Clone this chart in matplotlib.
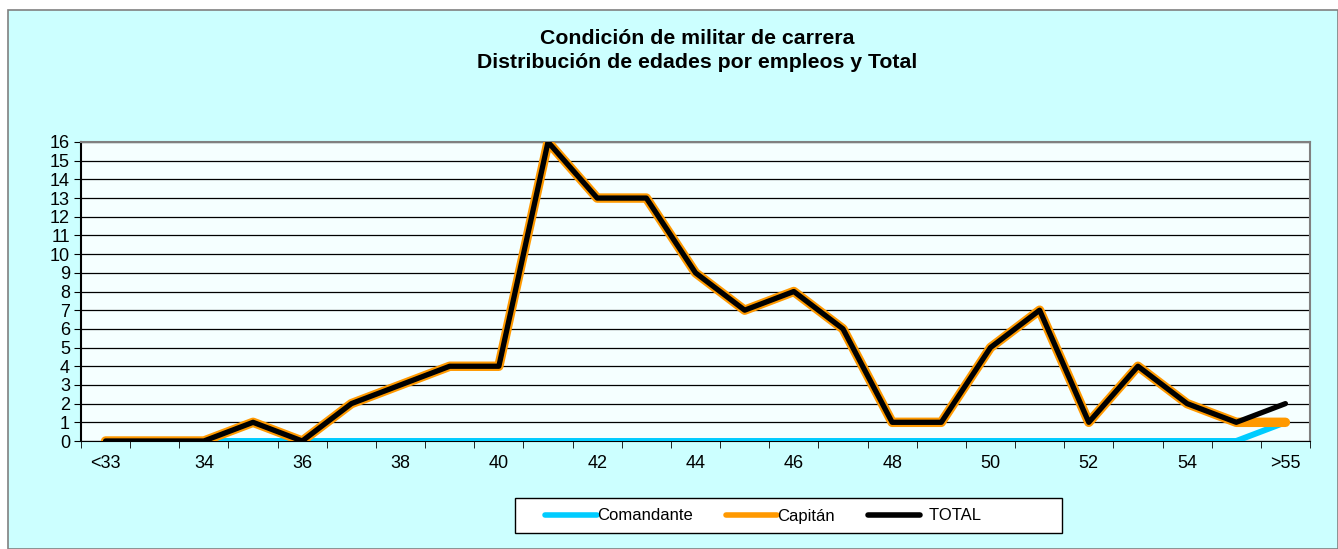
import numpy as np
import matplotlib.pyplot as plt
from matplotlib.patches import Rectangle

plt.rcParams['font.family'] = ['Liberation Sans', 'DejaVu Sans']

categories = ['<33'] + [str(a) for a in range(33, 56)] + ['>55']
comandante = [0]*24 + [1]
capitan = [0, 0, 0, 1, 0, 2, 3, 4, 4, 16, 13, 13, 9, 7, 8, 6, 1, 1, 5, 7, 1, 4, 2, 1, 1]
total = [0, 0, 0, 1, 0, 2, 3, 4, 4, 16, 13, 13, 9, 7, 8, 6, 1, 1, 5, 7, 1, 4, 2, 1, 2]

W, H = 1338, 549
fig = plt.figure(figsize=(W/100, H/100), dpi=100)
fig.patch.set_facecolor('white')
# outer chart area
fig.patches.append(Rectangle((8/W, 0), 1 - 8/W, 1 - 10/H, transform=fig.transFigure,
                             facecolor='#CCFFFF', edgecolor='#808080', lw=1.2, zorder=-5))
# legend box (drawn by hand, excel style padding)
fig.patches.append(Rectangle((515/W, 1 - 533/H), (1062-515)/W, 35/H, transform=fig.transFigure,
                             facecolor='white', edgecolor='black', lw=1.0, zorder=-4))

ax = fig.add_axes([81/W, 1 - 441/H, (1310-81)/W, (441-142)/H])
ax.set_facecolor('#F5FFFF')
x = np.arange(len(categories))
ax.plot(x, comandante, color='#00CCFF', lw=4.3, solid_capstyle='round', label='Comandante', zorder=3)
ax.plot(x, capitan, color='#FF9900', lw=6.8, solid_capstyle='round', solid_joinstyle='round', label='Capitán', zorder=4)
ax.plot(x, total, color='black', lw=3.8, solid_capstyle='round', label='  TOTAL', zorder=5)

ax.set_xlim(-0.5, len(categories) - 0.5)
ax.set_ylim(0, 16)
ax.set_yticks(range(0, 17))
ax.set_yticklabels([str(v) for v in range(0, 17)], fontsize=13)
ax.set_xticks(x[::2])
ax.set_xticklabels(categories[::2], fontsize=13)
ax.set_xticks(np.arange(-0.5, len(categories), 1), minor=True)
ax.tick_params(axis='x', which='major', length=0, pad=10)
ax.tick_params(axis='x', which='minor', length=5, direction='out', color='black')
ax.tick_params(axis='y', length=5, direction='out', pad=3)
ax.yaxis.grid(True, color='black', lw=0.9)
ax.set_axisbelow(True)
for s in ['top', 'right']:
    ax.spines[s].set_color('#808080')
    ax.spines[s].set_linewidth(1.5)
ax.spines['left'].set_color('black')
ax.spines['bottom'].set_color('black')
ax.spines['left'].set_linewidth(1.5)

fig.text(697/W, 1 - 39/H, 'Condición de militar de carrera', ha='center', va='center',
         fontsize=15.3, fontweight='bold')
fig.text(697/W, 1 - 63/H, 'Distribución de edades por empleos y Total', ha='center', va='center',
         fontsize=15.3, fontweight='bold')

leg = fig.legend(loc='center left', bbox_to_anchor=(545/W, 1 - 516/H), ncol=3, frameon=False,
                 fontsize=12, handlelength=3.1, columnspacing=2.0, handletextpad=0.0,
                 borderpad=0, borderaxespad=0)
for h in leg.get_lines():
    h.set_linewidth(4)

fig.savefig('out.png', dpi=100)
